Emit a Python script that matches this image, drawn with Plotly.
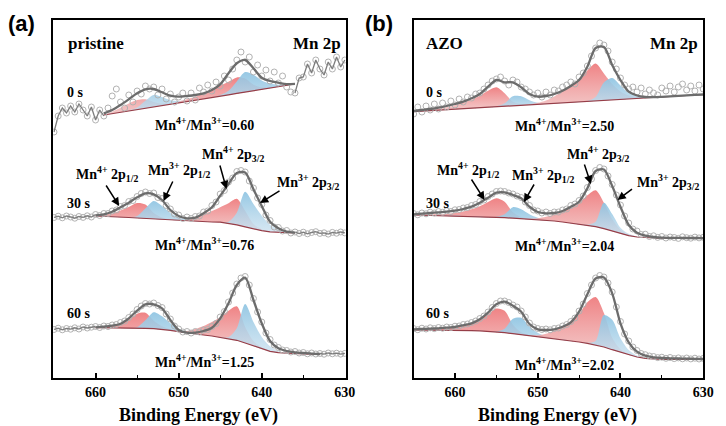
import numpy as np
import plotly.graph_objects as go

# ---------------- data (intensity in arbitrary units, offsets included) ----------------
E_RAW = np.arange(665, 629.75, -0.5)          # raw-data energies (eV)
TICKS = [660, 650, 640, 630]
MINOR_TICKS = [655, 645, 635]

# ---- pristine, 0 s (fit 659 -> 636 eV) ----
P0_FIT = (659, 636)
P0_BG = [263, 264.3, 265.7, 267, 268.4, 269.7, 271.1, 272.4, 273.8, 275.1, 276.5, 277.8,
         279.2, 280.5, 281.9, 283.2, 284.6, 285.9, 287.3, 288.6, 290, 291.3, 292.7, 294]
P0_ENV = [264.7, 268, 273, 278.7, 284.7, 288.7, 289, 285.7, 282.3, 281.3, 282, 283,
          284.7, 288, 293.7, 304.7, 314.7, 318, 309.7, 300.3, 297, 295.3, 293.9, 294.2]
P0_MN4_12 = [0.5, 2, 4.5, 7.5, 9.5, 9, 5, 2, 0.8, 0.3, 0, 0, 0, 0, 0, 0, 0, 0, 0, 0, 0, 0, 0, 0]
P0_MN3_12 = [0, 0, 0, 0.5, 2, 7.5, 12, 8.5, 4, 2, 1, 0.3, 0, 0, 0, 0, 0, 0, 0, 0, 0, 0, 0, 0]
P0_MN4_32 = [0, 0, 0, 0, 0, 0, 0, 0, 0.3, 1.2, 2.2, 3.5, 5.5, 8, 10.5, 13, 16, 13.5, 6, 2, 0.7, 0.2, 0, 0]
P0_MN3_32 = [0, 0, 0, 0, 0, 0, 0, 0, 0, 0, 0, 0, 0, 0, 1, 4, 12, 20, 16, 9, 4.5, 2, 0.8, 0.3]
P0_RAW = [246, 262, 270, 265, 272, 266, 274, 268, 262, 271, 258, 268,
          262, 270, 282, 289, 276, 270, 283, 276, 287, 284,
          292, 289, 291, 283, 289, 279, 284, 276, 281, 285,
          277, 285, 278, 290, 286, 293, 287, 296, 292, 302,
          298, 309, 318, 326, 316, 321, 306, 313, 302, 308,
          297, 306, 295, 302, 291, 286,
          285, 300, 301, 314, 305, 318, 309, 303, 316, 309, 321, 311, 318]

# ---- pristine, 30 s (fit 660 -> 636 eV) ----
P30_FIT = (660, 636)
P30_BG = [162, 161.8, 161.5, 161, 160.5, 160, 159.5, 159, 158.5, 158, 157.7, 157.3, 157,
          156.5, 156, 155.8, 154.8, 153.2, 151.2, 149, 147.3, 146.2, 145.6, 145.2, 145]
P30_ENV = [162.7, 163.7, 166.3, 170.7, 175.3, 180.7, 184.7, 183.7, 178, 168, 162, 159.7, 160.3,
           164.7, 170.7, 182.3, 194, 205, 205.5, 188.7, 172, 156.3, 149.7, 146.3, 145.3]
P30_MN4_12 = [0.5, 1.5, 3, 6.5, 10.5, 15, 14, 6, 2, 0.5] + [0] * 15
P30_MN3_12 = [0, 0, 0, 0, 0, 2, 10, 18, 13.5, 7, 3, 1, 0.3] + [0] * 12
P30_MN4_32 = [0] * 11 + [1, 3, 7.5, 11, 15, 20, 26, 16, 5, 1.5, 0.4, 0, 0, 0]
P30_MN3_32 = [0] * 16 + [1.5, 12, 35, 25, 15, 7, 3, 1, 0.3]
P30_RAW = [160.5, 161.8, 160.2, 162, 161, 159.8, 161.5, 160.6, 162.2, 161,
           163.5, 162.5, 164.5, 164.5, 167, 168, 171.5, 172.5, 176.5, 177.5,
           181.5, 184.5, 186, 184.5, 185, 180.5, 179.5, 172.5, 169, 164,
           163, 159.5, 161, 159.5, 161.5, 162, 166, 167, 172.5, 176,
           184, 187.5, 196, 200, 206.5, 207.5, 206, 197, 190, 180,
           173.5, 163, 157.5, 151, 150.5, 147, 147.5, 145,
           146, 144.5, 145.8, 144.2, 145.5, 146.3, 144.6, 145.2, 143.9, 145.6, 144.8, 146, 145.1]

# ---- pristine, 60 s (fit 660 -> 633 eV) ----
P60_FIT = (660, 633)
P60_BG = [50.3, 50.3, 50.2, 50, 50, 49.8, 49.7, 49.3, 48.7, 47.7, 46.3, 45, 44, 43, 42,
          40.7, 39.3, 37.7, 35, 32, 29, 26.7, 25.3, 24.7, 24.3, 24, 23.8, 23.7]
P60_ENV = [50.7, 51.3, 52.3, 54.3, 59.7, 67.3, 73.7, 73.7, 69.7, 58, 48, 45.3, 45.3, 47,
           50.3, 59.7, 74.7, 93, 100.3, 78, 54.7, 37, 29.7, 27, 25.7, 25, 24.3, 24]
P60_MN4_12 = [0.5, 1, 2.2, 4.5, 8.5, 14.5, 15.5, 8, 3, 1, 0.3] + [0] * 17
P60_MN3_12 = [0] * 5 + [1, 8, 16.5, 13, 7, 3, 1.2, 0.4] + [0] * 15
P60_MN4_32 = [0] * 10 + [0.5, 2, 5, 9, 14, 20, 28, 34, 16, 5, 1.5, 0.5, 0.2] + [0] * 5
P60_MN3_32 = [0] * 16 + [1.5, 12, 39, 24, 12, 5, 1.5, 0.5] + [0] * 4
P60_RAW = [48.5, 49.8, 48.2, 49.5, 48.8, 50.2, 49, 51, 50, 50.8,
           51.5, 50.5, 52, 51.5, 53, 53.5, 55.5, 57, 60.5, 64,
           68.5, 72, 74.5, 74, 75, 72.5, 70.5, 64, 59, 52,
           49, 46, 46.5, 45, 46.5, 46, 48, 48.5, 51.5, 54.5,
           61, 66.5, 76, 85, 94, 100, 101.5, 93, 79.5, 66,
           56, 45, 38.5, 33, 30.5, 28, 27.5, 26, 26.5, 25,
           25.5, 24.2, 25, 24,
           24.5, 23.8, 25, 24.2, 24.8, 23.9, 24.6]

# ---- AZO, 0 s (fit 665 -> 630 eV) ----
A0_FIT = (665, 630)
A0_BG = [266.3, 266.8, 267.3, 267.8, 268.3, 268.8, 269.2, 269.7, 270.2, 270.7, 271.2, 271.7,
         272.2, 272.7, 273.2, 273.7, 274.1, 274.6, 275.1, 275.6, 276.1, 276.6, 277.1, 277.6,
         278.1, 278.6, 279.0, 279.5, 280.0, 280.5, 281.0, 281.5, 282.0, 282.5, 283.0, 283.5]
A0_ENV = [267, 268, 269, 270.3, 272, 274, 276.3, 279.7, 284, 291.3, 298, 295.7, 295.7, 290.7,
          284, 281.3, 282, 284, 287.3, 292, 298, 311.3, 330, 331, 313, 298, 286.3, 282.5,
          281, 280.8, 281.2, 281.7, 282.2, 282.7, 283.1, 283.5]
A0_MN4_12 = [0.3, 0.6, 1, 1.6, 2.5, 4, 6, 8.5, 12, 16.5, 19.5, 13, 4, 1.2, 0.4] + [0] * 21
A0_MN3_12 = [0] * 10 + [0.5, 3, 9.5, 9, 4.5, 1.5, 0.4] + [0] * 19
A0_MN4_32 = [0] * 14 + [0.5, 1.5, 3.5, 7, 12, 17, 22.5, 31, 37.5, 27, 16, 8, 3.5, 1.3, 0.4] + [0] * 7
A0_MN3_32 = [0] * 21 + [0.5, 4, 18, 22, 14, 6, 2, 0.6] + [0] * 7
A0_RAW = [264, 271, 266, 272, 268, 274, 269, 275, 271, 277,
          273, 279, 276, 281, 280, 284, 285, 289, 293, 297,
          299, 301, 297, 293, 298, 296, 291, 289, 286, 283,
          285, 281, 286, 283, 288, 287, 291, 293, 296, 294,
          301, 305, 312, 322, 330, 335, 333, 327, 316, 309,
          300, 293, 289, 291, 286, 290, 284, 288, 285, 283,
          290, 287, 292, 286, 291, 294, 288, 292, 287, 293, 289]

# ---- AZO, 30 s ----
A30_FIT = (665, 630)
A30_BG = [163, 162.8, 162.7, 162.5, 162.3, 162.2, 162, 161.7, 161.3, 161, 160.7, 160.3,
          159.8, 159.3, 158.8, 158.3, 157.7, 157, 156, 155, 154, 152.7, 151.3, 149.3,
          147, 144.3, 142.3, 141, 140.3, 140, 139.8, 139.7, 139.7, 139.6, 139.6, 139.5]
A30_ENV = [163.7, 164.3, 165, 165.7, 166.3, 167.3, 169, 171.3, 175.3, 180.3,
           185.3, 185.7, 183, 179.7, 171.3, 166, 164.7, 165, 167, 171.3,
           176.3, 189.7, 207, 208.5, 192, 171.3, 153, 145.3, 142.3, 141,
           140.3, 140.2, 140.1, 140, 140, 139.9]
A30_MN4_12 = [0.3, 0.5, 0.8, 1.2, 1.8, 2.8, 4.5, 7, 10.5, 15, 19, 16, 6, 1.8, 0.5] + [0] * 21
A30_MN3_12 = [0] * 10 + [0.5, 3.5, 11, 9.5, 5, 2, 0.6] + [0] * 19
A30_MN4_32 = [0] * 14 + [0.5, 1.5, 3.5, 6.5, 10, 15, 21, 30, 36.5, 26, 12, 4, 1.2, 0.4] + [0] * 8
A30_MN3_32 = [0] * 21 + [0.5, 5, 26, 17, 6, 2, 0.6] + [0] * 8
A30_RAW = [164.5, 163.2, 165, 164.2, 165.8, 165, 166.5, 165.7, 167.2, 166.5,
           168.2, 168.5, 170, 170.5, 172.5, 173.5, 176.5, 178, 181.5, 184,
           186.5, 187, 186.5, 185, 184, 182, 180.5, 176, 172.5, 168,
           167, 165, 166, 164.5, 166, 166, 168, 169, 172.5, 174,
           177.5, 182, 190.5, 199, 207.5, 210.5, 209, 202, 193.5, 183,
           173, 162, 155, 149, 147, 143.5, 143.8, 141.5, 142.2, 140.6,
           141.5, 140, 141, 140.5, 139.6, 141.2, 140.3, 139.8, 140.9, 140.1, 140.7]

# ---- AZO, 60 s ----
A60_FIT = (665, 630)
A60_BG = [48, 48, 47.9, 47.8, 47.7, 47.7, 47.5, 47.3, 47.2, 46.7, 46, 45.3, 44.3, 43.3,
          42.3, 41.3, 40.3, 39.3, 38.5, 37.3, 36, 34.7, 33, 31, 28.3, 25.7, 23, 21, 19.7,
          19, 18.7, 18.7, 18.6, 18.6, 18.5, 18.5]
A60_ENV = [48.7, 49, 49.3, 49.7, 50.3, 51, 52.7, 54.7, 58.7, 65.3,
           73.7, 76.3, 72.3, 66.3, 54, 48.7, 48, 48.7, 51.3, 55.7,
           66.3, 83.7, 99.5, 100.5, 84.7, 54.7, 35.7, 26.3, 22.3, 20.7,
           20, 19.7, 19.5, 19.3, 19.2, 19]
A60_MN4_12 = [0.3, 0.5, 0.8, 1.2, 1.8, 2.8, 4.5, 7, 11, 17, 23.5, 22, 9, 2.5, 0.6] + [0] * 21
A60_MN3_12 = [0] * 10 + [0.5, 4, 15, 17, 9.5, 4, 1.5, 0.5] + [0] * 18
A60_MN4_32 = [0] * 14 + [0.5, 1.5, 4, 8, 13, 20, 28, 41, 48, 34, 12, 3, 0.8, 0.2] + [0] * 8
A60_MN3_32 = [0] * 21 + [0.5, 4, 32, 30, 14, 5, 1.5, 0.4] + [0] * 7
A60_RAW = [49.5, 48.3, 49.8, 49, 50.2, 49.4, 50.5, 49.8, 51, 50.5,
           51.8, 52, 53.5, 54, 55.5, 57, 59.5, 62, 66, 70.5,
           74.5, 77, 77, 75.5, 73, 71, 67, 61, 55, 51,
           49.5, 48.5, 49, 48.2, 49.5, 50, 52, 53.5, 56.5, 60,
           67, 74, 84.5, 93, 100, 102.5, 101, 95, 86, 71,
           56.5, 44, 37, 31, 27.5, 24.5, 23.3, 22, 21.5, 20.4,
           20.8, 19.7, 20.5, 19.4, 20.1, 19.2, 20, 19.1, 19.8, 19, 19.6]

RATIOS_A = ["0.60", "0.76", "1.25"]
RATIOS_B = ["2.50", "2.04", "2.02"]
TIMES = ["0 s", "30 s", "60 s"]

# ---------------- figure ----------------
W, H = 726, 426
SERIF = "Liberation Serif"
SANS = "Liberation Sans"

RED_GRAD = [[0, "rgba(240,192,192,0.80)"], [1, "rgba(238,120,122,0.92)"]]
BLUE_GRAD = [[0, "rgba(205,226,240,0.80)"], [1, "rgba(142,196,226,0.92)"]]

spectra = [
    dict(ax=("x", "y"), fit=P0_FIT, bg=P0_BG, env=P0_ENV, raw=P0_RAW, line_out=True,
         comps=[P0_MN4_12, P0_MN3_12, P0_MN4_32, P0_MN3_32]),
    dict(ax=("x", "y"), fit=P30_FIT, bg=P30_BG, env=P30_ENV, raw=P30_RAW, line_out=True,
         comps=[P30_MN4_12, P30_MN3_12, P30_MN4_32, P30_MN3_32]),
    dict(ax=("x", "y"), fit=P60_FIT, bg=P60_BG, env=P60_ENV, raw=P60_RAW, line_out=True,
         comps=[P60_MN4_12, P60_MN3_12, P60_MN4_32, P60_MN3_32]),
    dict(ax=("x2", "y2"), fit=A0_FIT, bg=A0_BG, env=A0_ENV, raw=A0_RAW, line_out=False,
         comps=[A0_MN4_12, A0_MN3_12, A0_MN4_32, A0_MN3_32]),
    dict(ax=("x2", "y2"), fit=A30_FIT, bg=A30_BG, env=A30_ENV, raw=A30_RAW, line_out=False,
         comps=[A30_MN4_12, A30_MN3_12, A30_MN4_32, A30_MN3_32]),
    dict(ax=("x2", "y2"), fit=A60_FIT, bg=A60_BG, env=A60_ENV, raw=A60_RAW, line_out=False,
         comps=[A60_MN4_12, A60_MN3_12, A60_MN4_32, A60_MN3_32]),
]
grads = [RED_GRAD, BLUE_GRAD, RED_GRAD, BLUE_GRAD]

fig = go.Figure()
common = dict(showlegend=False, hoverinfo="skip")

for sp in spectra:
    xa, ya = sp["ax"]
    e0, e1 = sp["fit"]
    grid = np.arange(e0, e1 - 0.5, -1.0)
    bg = np.array(sp["bg"], dtype=float)
    # component peaks filled above the background
    for comp, grad in zip(sp["comps"], grads):
        top = bg + np.array(comp, dtype=float)
        fig.add_trace(go.Scatter(x=grid, y=bg, mode="lines", line=dict(width=0),
                                 xaxis=xa, yaxis=ya, **common))
        fig.add_trace(go.Scatter(x=grid, y=top, mode="lines",
                                 line=dict(width=0, shape="spline", smoothing=0.8),
                                 fill="tonexty",
                                 fillgradient=dict(type="vertical", colorscale=grad),
                                 xaxis=xa, yaxis=ya, **common))
    # background line
    fig.add_trace(go.Scatter(x=grid, y=bg, mode="lines",
                             line=dict(color="rgb(150,62,72)", width=1.2),
                             xaxis=xa, yaxis=ya, **common))
    raw = np.array(sp["raw"], dtype=float)
    # raw data markers
    fig.add_trace(go.Scatter(x=E_RAW, y=raw, mode="markers",
                             marker=dict(symbol="circle-open", size=6,
                                         color="rgb(178,178,178)", line=dict(width=1)),
                             xaxis=xa, yaxis=ya, **common))
    if sp["line_out"]:
        left = E_RAW >= e0
        right = E_RAW <= e1
        for m in (left, right):
            fig.add_trace(go.Scatter(x=E_RAW[m], y=raw[m], mode="lines",
                                     line=dict(color="rgb(125,125,125)", width=1.3),
                                     xaxis=xa, yaxis=ya, **common))
    # fitted envelope
    fig.add_trace(go.Scatter(x=grid, y=sp["env"], mode="lines",
                             line=dict(color="rgb(108,108,108)", width=2.3,
                                       shape="spline", smoothing=0.8),
                             xaxis=xa, yaxis=ya, **common))

# ---------------- axes ----------------
def px(x, y):
    return x / W, 1 - y / H

ydom = [1 - 378 / H, 1 - 20 / H]
axis_x = dict(showline=True, linecolor="black", linewidth=2, mirror=True,
              ticks="inside", ticklen=5, tickwidth=1.5, tickcolor="black",
              tickvals=TICKS, showgrid=False, zeroline=False,
              tickfont=dict(family=SERIF, size=14, color="black", weight="bold"),
              minor=dict(tickvals=MINOR_TICKS, ticks="inside", ticklen=3,
                         tickwidth=1.2, tickcolor="black", showgrid=False))
axis_y = dict(showline=True, linecolor="black", linewidth=2, mirror=True,
              ticks="", showticklabels=False, showgrid=False, zeroline=False,
              range=[0, 358], domain=ydom)

fig.update_layout(
    width=W, height=H, margin=dict(l=0, r=0, t=0, b=0),
    paper_bgcolor="white", plot_bgcolor="white",
    font=dict(family=SERIF),
    xaxis=dict(axis_x, domain=[54 / W, 351 / W], range=[665.1, 629.9], anchor="y"),
    yaxis=dict(axis_y, anchor="x"),
    xaxis2=dict(axis_x, domain=[420 / W, 714 / W], range=[665.0, 630.0], anchor="y2"),
    yaxis2=dict(axis_y, anchor="x2"),
)

# ---------------- annotations ----------------
ann = []

def text(x, y, s, size=14, family=SERIF, xanchor="center"):
    X, Y = px(x, y)
    ann.append(dict(x=X, y=Y, xref="paper", yref="paper", text=s, showarrow=False,
                    xanchor=xanchor, yanchor="middle",
                    font=dict(family=family, size=size, color="black")))

def arrow(tail, head):
    X, Y = px(*head)
    ann.append(dict(x=X, y=Y, xref="paper", yref="paper", text="", showarrow=True,
                    ax=tail[0] - head[0], ay=tail[1] - head[1], axref="pixel", ayref="pixel",
                    arrowhead=2, arrowsize=1.1, arrowwidth=1.5, arrowcolor="black", standoff=0))

text(22, 23, "<b>(a)</b>", size=22, family=SANS)
text(385, 23, "<b>(b)</b>", size=22, family=SANS)
text(67, 43, "<b>pristine</b>", size=17, xanchor="left")
text(431, 43, "<b>AZO</b>", size=17, xanchor="left")
text(348, 43, "<b>Mn 2p</b>", size=17, xanchor="right")
text(711, 43, "<b>Mn 2p</b>", size=17, xanchor="right")

for t, y in zip(TIMES, [92, 203, 313]):
    text(66, y, "<b>%s</b>" % t, size=14, xanchor="left")
    text(431, y, "<b>%s</b>" % t, size=14, xanchor="left")

for r, y in zip(RATIOS_A, [124, 244, 361]):
    text(208, y, "<b>Mn<sup>4+</sup>/Mn<sup>3+</sup>=%s</b>" % r, size=14)
for r, y in zip(RATIOS_B, [125, 245, 364]):
    text(573, y, "<b>Mn<sup>4+</sup>/Mn<sup>3+</sup>=%s</b>" % r, size=14)

LAB_41 = "<b>Mn<sup>4+</sup> 2p<sub>1/2</sub></b>"
LAB_31 = "<b>Mn<sup>3+</sup> 2p<sub>1/2</sub></b>"
LAB_43 = "<b>Mn<sup>4+</sup> 2p<sub>3/2</sub></b>"
LAB_33 = "<b>Mn<sup>3+</sup> 2p<sub>3/2</sub></b>"
for s, (x, y) in zip([LAB_41, LAB_31, LAB_43, LAB_33], [(109, 174), (182, 170), (237, 154), (313, 182)]):
    text(x, y, s, size=14)
for s, (x, y) in zip([LAB_41, LAB_31, LAB_43, LAB_33], [(475, 170), (551, 175), (607, 154), (678, 182)]):
    text(x, y, s, size=14)

for tail, head in [((107, 184), (121, 206)), ((176, 180), (166, 201)),
                   ((223, 164), (230, 189)), ((285, 190), (264, 203)),
                   ((478, 178), (492, 200)), ((543, 183), (532, 202)),
                   ((593, 163), (600, 184)), ((643, 188), (627, 200))]:
    arrow(tail, head)

text(202, 415, "<b>Binding Energy (eV)</b>", size=18)
text(566, 415, "<b>Binding Energy (eV)</b>", size=18)

fig.update_layout(annotations=ann)
fig.write_html("out.html")
